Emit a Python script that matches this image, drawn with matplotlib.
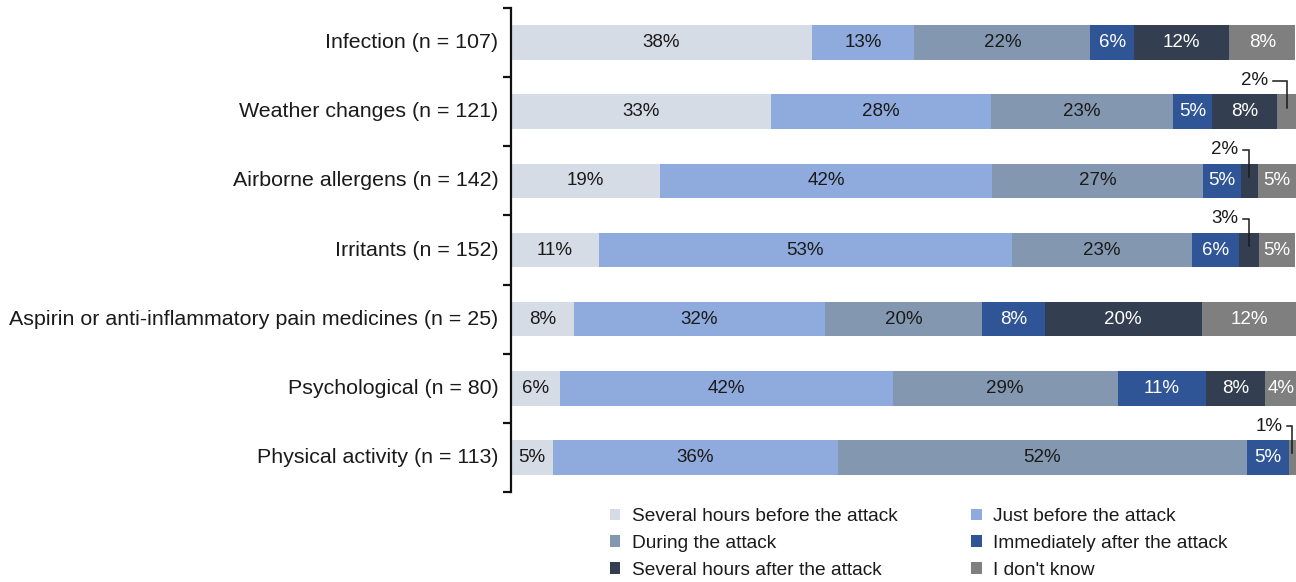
import matplotlib
matplotlib.use("Agg")
import matplotlib.pyplot as plt
import numpy as np
from matplotlib.patches import Patch

plt.rcParams['font.family'] = ['Liberation Sans', 'DejaVu Sans']

# triggers, top to bottom
categories = [
    "Infection (n = 107)",
    "Weather changes (n = 121)",
    "Airborne allergens (n = 142)",
    "Irritants (n = 152)",
    "Aspirin or anti-inflammatory pain medicines (n = 25)",
    "Psychological (n = 80)",
    "Physical activity (n = 113)",
]

series_names = [
    "Several hours before the attack",
    "Just before the attack",
    "During the attack",
    "Immediately after the attack",
    "Several hours after the attack",
    "I don't know",
]

# share of respondents (%) per timing, one list per series
several_before = [38.3, 33.1, 19.0, 11.2, 8.0, 6.2, 5.3]
just_before = [13.1, 28.1, 42.3, 52.6, 32.0, 42.4, 36.3]
during = [22.4, 23.1, 26.8, 23.0, 20.0, 28.7, 52.2]
immediately_after = [5.6, 5.0, 4.9, 5.9, 8.0, 11.2, 5.3]
several_after = [12.1, 8.3, 2.1, 2.6, 20.0, 7.6, 0.0]
dont_know = [8.4, 2.4, 4.9, 4.6, 12.0, 3.9, 0.9]

series = [several_before, just_before, during, immediately_after,
          several_after, dont_know]

colors = ["#d6dce5", "#8faadc", "#8497b0", "#2f5597", "#333f50", "#7f7f7f"]
text_colors = ["#1a1a1a", "#1a1a1a", "#1a1a1a", "white", "white", "white"]

# segments too narrow for an inside label: (row, series) -> leader length in %
callouts = {(1, 5): 1.7, (2, 4): 0.8, (3, 4): 0.8, (6, 5): 0.7}

fig = plt.figure(figsize=(12.96, 5.82), dpi=100)
ax = fig.add_axes([511 / 1296, 90 / 582, 785 / 1296, 484 / 582])

y = np.arange(len(categories))
left = np.zeros(len(categories))
bar_h = 0.5

for s, (vals, col, tcol) in enumerate(zip(series, colors, text_colors)):
    vals = np.array(vals)
    ax.barh(y, vals, left=left, height=bar_h, color=col, edgecolor='none')
    for i, v in enumerate(vals):
        if v <= 0:
            continue
        cx = left[i] + v / 2
        if (i, s) in callouts:
            seg = callouts[(i, s)]
            ty = y[i] - 0.45
            ax.plot([cx - seg, cx, cx], [ty, ty, y[i] - 0.06],
                    color='#1a1a1a', lw=1.1, clip_on=False,
                    solid_joinstyle='miter')
            ax.text(cx - seg - 0.6, ty, f"{v:.0f}%", ha='right', va='center',
                    fontsize=13.5, color='#1a1a1a')
        else:
            ax.text(cx, y[i], f"{v:.0f}%", ha='center', va='center',
                    fontsize=13.5, color=tcol)
    left += vals

ax.set_xlim(0, 100)
ax.set_ylim(len(categories) - 0.5, -0.5)

for side in ['top', 'right', 'bottom']:
    ax.spines[side].set_visible(False)
ax.spines['left'].set_linewidth(1.6)
ax.spines['left'].set_color('#111111')
ax.set_xticks([])

# boundary ticks on the axis, labels centred between them
ax.set_yticks(np.arange(-0.5, len(categories), 1.0))
ax.set_yticklabels([])
ax.tick_params(axis='y', which='major', length=6, width=1.6, color='#111111')
ax.set_yticks(y, minor=True)
ax.set_yticklabels(categories, minor=True, va='center')
ax.tick_params(axis='y', which='minor', length=0, pad=9,
               labelsize=15.4, labelcolor='#1a1a1a')

handles = [Patch(facecolor=c, edgecolor='none', label=n)
           for c, n in zip(colors, series_names)]
order = [0, 2, 4, 1, 3, 5]
fig.legend([handles[k] for k in order], [series_names[k] for k in order],
           ncol=2, loc='upper left', bbox_to_anchor=(610 / 1296, 1 - 508 / 582),
           frameon=False, fontsize=13.8, handlelength=0.54, handleheight=0.54,
           handletextpad=0.6, columnspacing=3.85, labelspacing=0.52,
           borderpad=0, borderaxespad=0, labelcolor='#1a1a1a')

fig.savefig("out.png", dpi=100)
